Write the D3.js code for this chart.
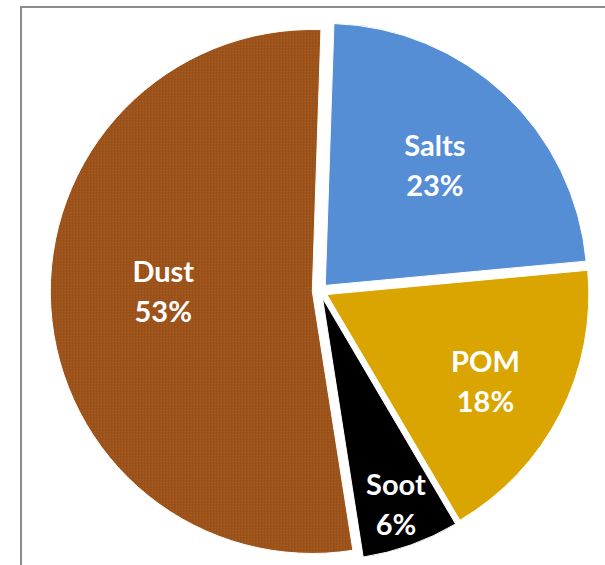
<!DOCTYPE html>
<html>
<head>
<meta charset="utf-8">
<script src="https://cdn.jsdelivr.net/npm/d3@7"></script>
<style>
  html, body { margin: 0; padding: 0; background: #fff; }
  svg { display: block; }
</style>
</head>
<body>
<svg id="chart" width="605" height="565"></svg>
<script>
// ---- data ----
const categories = ["Salts", "POM", "Soot", "Dust"];
const values = [23, 18, 6, 53];
const labels = ["23%", "18%", "6%", "53%"];
const colors = ["#558ED5", "#DAA500", "#000000", "#A0561E"];

// ---- layout ----
const W = 605, H = 565;
const cx = 320, cy = 291, R = 262, explode = 7.7;
const startAngle = 0.033;
const labelLayout = {
  Salts: { f: 0.61, dy: -5 },
  POM:   { f: 0.68, dy: 4 },
  Soot:  { f: 0.83, dy: 0 },
  Dust:  { f: 0.57, dy: -11 }
};

const svg = d3.select("#chart");

// texture for dust
const defs = svg.append("defs");
const pat = defs.append("pattern")
  .attr("id", "dustTex").attr("patternUnits", "userSpaceOnUse")
  .attr("width", 3).attr("height", 3);
pat.append("rect").attr("width", 3).attr("height", 3).attr("fill", "#A5591F");
pat.append("rect").attr("width", 3).attr("height", 1).attr("fill", "#964F18");
pat.append("rect").attr("width", 1).attr("height", 3).attr("fill", "#964F18");

// frame (open on right and bottom, clipped by window)
svg.append("path")
  .attr("d", d3.line()([[21, H + 5], [21, 7], [W + 5, 7]]))
  .attr("fill", "none").attr("stroke", "#8c8c8c").attr("stroke-width", 2);

const data = categories.map((c, i) => ({ cat: c, value: values[i], label: labels[i], color: colors[i] }));

const pie = d3.pie().sort(null).value(d => d.value)
  .startAngle(startAngle).endAngle(startAngle + 2 * Math.PI);
const arcs = pie(data);
const arc = d3.arc().innerRadius(0).outerRadius(R);

const g = svg.append("g").attr("transform", `translate(${cx},${cy})`);

const slices = g.selectAll("g.slice").data(arcs).join("g")
  .attr("class", "slice")
  .attr("transform", d => {
    const m = (d.startAngle + d.endAngle) / 2;
    return `translate(${explode * Math.sin(m)},${-explode * Math.cos(m)})`;
  });

slices.append("path")
  .attr("d", arc)
  .attr("fill", d => d.data.cat === "Dust" ? "url(#dustTex)" : d.data.color)
  .attr("stroke", "#fff").attr("stroke-width", 1);

const txt = slices.append("text")
  .attr("fill", "#fff")
  .attr("font-family", "Lato, 'Open Sans', sans-serif")
  .attr("font-weight", "bold")
  .attr("font-size", 29)
  .attr("text-anchor", "middle")
  .attr("transform", d => {
    const m = (d.startAngle + d.endAngle) / 2;
    const L = labelLayout[d.data.cat];
    const r = R * L.f;
    return `translate(${r * Math.sin(m)},${-r * Math.cos(m) + L.dy})`;
  });
txt.append("tspan").attr("x", 0).attr("y", -8).text(d => d.data.cat);
txt.append("tspan").attr("x", 0).attr("y", 32).text(d => d.data.label);
</script>
</body>
</html>
